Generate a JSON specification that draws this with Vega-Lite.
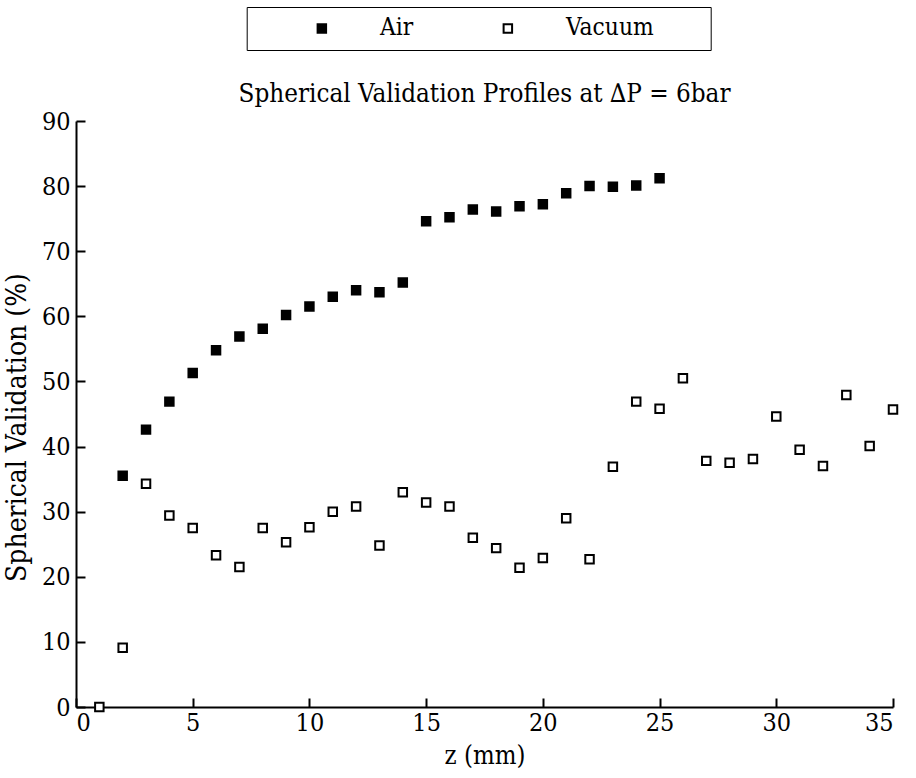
{
  "$schema": "https://vega.github.io/schema/vega-lite/v6.json",
  "width": 817,
  "height": 586,
  "autosize": {"type": "none"},
  "padding": {"left": 76, "top": 121, "right": 23, "bottom": 71},
  "background": "white",
  "title": {
    "text": "Spherical Validation Profiles at ∆P = 6bar",
    "font": "DejaVu Serif Condensed",
    "fontSize": 25.8,
    "fontWeight": "normal",
    "color": "black",
    "anchor": "middle",
    "baseline": "alphabetic",
    "offset": 18,
    "dy": 139
  },
  "config": {
    "view": {"stroke": null},
    "axis": {
      "domainColor": "black",
      "domainWidth": 2,
      "tickColor": "black",
      "tickWidth": 2,
      "tickSize": -9,
      "grid": false,
      "labelFont": "DejaVu Serif Condensed",
      "labelFontSize": 25,
      "labelFontWeight": "normal",
      "labelColor": "black",
      "titleFont": "DejaVu Serif Condensed",
      "titleFontSize": 25.5,
      "titleFontWeight": "normal",
      "titleColor": "black"
    }
  },
  "data": {
    "values": [
      {"z": 2, "v": 35.5, "series": "Air"},
      {"z": 3, "v": 42.6, "series": "Air"},
      {"z": 4, "v": 46.9, "series": "Air"},
      {"z": 5, "v": 51.3, "series": "Air"},
      {"z": 6, "v": 54.8, "series": "Air"},
      {"z": 7, "v": 56.9, "series": "Air"},
      {"z": 8, "v": 58.1, "series": "Air"},
      {"z": 9, "v": 60.2, "series": "Air"},
      {"z": 10, "v": 61.5, "series": "Air"},
      {"z": 11, "v": 63.0, "series": "Air"},
      {"z": 12, "v": 64.0, "series": "Air"},
      {"z": 13, "v": 63.7, "series": "Air"},
      {"z": 14, "v": 65.2, "series": "Air"},
      {"z": 15, "v": 74.6, "series": "Air"},
      {"z": 16, "v": 75.2, "series": "Air"},
      {"z": 17, "v": 76.4, "series": "Air"},
      {"z": 18, "v": 76.1, "series": "Air"},
      {"z": 19, "v": 76.9, "series": "Air"},
      {"z": 20, "v": 77.2, "series": "Air"},
      {"z": 21, "v": 78.9, "series": "Air"},
      {"z": 22, "v": 80.0, "series": "Air"},
      {"z": 23, "v": 79.9, "series": "Air"},
      {"z": 24, "v": 80.1, "series": "Air"},
      {"z": 25, "v": 81.2, "series": "Air"},
      {"z": 1, "v": 0.0, "series": "Vacuum"},
      {"z": 2, "v": 9.1, "series": "Vacuum"},
      {"z": 3, "v": 34.3, "series": "Vacuum"},
      {"z": 4, "v": 29.4, "series": "Vacuum"},
      {"z": 5, "v": 27.5, "series": "Vacuum"},
      {"z": 6, "v": 23.3, "series": "Vacuum"},
      {"z": 7, "v": 21.5, "series": "Vacuum"},
      {"z": 8, "v": 27.5, "series": "Vacuum"},
      {"z": 9, "v": 25.3, "series": "Vacuum"},
      {"z": 10, "v": 27.6, "series": "Vacuum"},
      {"z": 11, "v": 30.0, "series": "Vacuum"},
      {"z": 12, "v": 30.8, "series": "Vacuum"},
      {"z": 13, "v": 24.8, "series": "Vacuum"},
      {"z": 14, "v": 33.0, "series": "Vacuum"},
      {"z": 15, "v": 31.4, "series": "Vacuum"},
      {"z": 16, "v": 30.8, "series": "Vacuum"},
      {"z": 17, "v": 26.0, "series": "Vacuum"},
      {"z": 18, "v": 24.4, "series": "Vacuum"},
      {"z": 19, "v": 21.4, "series": "Vacuum"},
      {"z": 20, "v": 22.9, "series": "Vacuum"},
      {"z": 21, "v": 29.0, "series": "Vacuum"},
      {"z": 22, "v": 22.7, "series": "Vacuum"},
      {"z": 23, "v": 36.9, "series": "Vacuum"},
      {"z": 24, "v": 46.9, "series": "Vacuum"},
      {"z": 25, "v": 45.8, "series": "Vacuum"},
      {"z": 26, "v": 50.5, "series": "Vacuum"},
      {"z": 27, "v": 37.8, "series": "Vacuum"},
      {"z": 28, "v": 37.5, "series": "Vacuum"},
      {"z": 29, "v": 38.1, "series": "Vacuum"},
      {"z": 30, "v": 44.6, "series": "Vacuum"},
      {"z": 31, "v": 39.5, "series": "Vacuum"},
      {"z": 32, "v": 37.0, "series": "Vacuum"},
      {"z": 33, "v": 47.9, "series": "Vacuum"},
      {"z": 34, "v": 40.1, "series": "Vacuum"},
      {"z": 35, "v": 45.7, "series": "Vacuum"}
    ]
  },
  "mark": {
    "type": "point",
    "shape": "square",
    "size": 72,
    "strokeWidth": 2,
    "stroke": "black",
    "filled": true,
    "opacity": 1,
    "clip": false
  },
  "encoding": {
    "x": {
      "field": "z",
      "type": "quantitative",
      "scale": {"domain": [0, 35], "nice": false, "zero": false},
      "axis": {"title": "z (mm)", "values": [0, 5, 10, 15, 20, 25, 30, 35], "labelPadding": 12, "titlePadding": 8}
    },
    "y": {
      "field": "v",
      "type": "quantitative",
      "scale": {"domain": [0, 90], "nice": false},
      "axis": {"title": "Spherical Validation (%)", "values": [0, 10, 20, 30, 40, 50, 60, 70, 80, 90], "labelPadding": 15, "titlePadding": 10, "titleFontSize": 28, "titleY": 306}
    },
    "fill": {
      "field": "series",
      "type": "nominal",
      "scale": {"domain": ["Air", "Vacuum"], "range": ["black", "white"]},
      "legend": {
        "orient": "none",
        "legendX": 170.7,
        "legendY": -114,
        "direction": "horizontal",
        "title": "\u00a0",
        "titleOrient": "right",
        "titleFont": "DejaVu Serif Condensed",
        "titleFontSize": 22,
        "titlePadding": 48,
        "symbolOffset": 54,
        "labelOffset": 46,
        "columnPadding": 28,
        "padding": 9,
        "strokeColor": "black",
        "labelFont": "DejaVu Serif Condensed",
        "labelFontSize": 24.3,
        "labelFontWeight": "normal",
        "labelColor": "black",
        "labelLimit": 300,
        "symbolType": "square",
        "symbolSize": 72,
        "symbolStrokeWidth": 2,
        "symbolStrokeColor": "black",
        "symbolOpacity": 1
      }
    }
  }
}
